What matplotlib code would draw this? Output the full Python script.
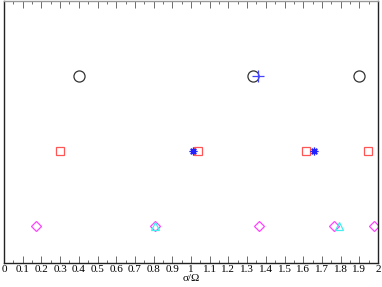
import matplotlib
matplotlib.use("Agg")
import matplotlib.pyplot as plt
import numpy as np

plt.rcParams['font.family'] = ['Liberation Serif', 'DejaVu Serif']

# row levels
row_circle = 2.5
row_square = 1.5
row_diamond = 0.5

circle_x = [0.403, 1.330, 1.900]
plus_x = [1.360]
square_x = [0.301, 1.039, 1.615, 1.945]
star_x = [1.012, 1.658]
diamond_x = [0.171, 0.809, 1.362, 1.765, 1.977]
triangle_x = [0.809, 1.791]

xticks = np.round(np.arange(0, 2.01, 0.1), 1)
xticklabels = ['0', '0.1', '0.2', '0.3', '0.4', '0.5', '0.6', '0.7', '0.8', '0.9', '1',
               '1.1', '1.2', '1.3', '1.4', '1.5', '1.6', '1.7', '1.8', '1.9', '2']

fig = plt.figure(figsize=(3.82, 2.87), dpi=100)
ax = fig.add_axes([4/382, 1 - 263/287, 374/382, 262/287])

ax.plot(circle_x, [row_circle]*len(circle_x), ls='none', marker='o', ms=8,
        mfc='none', mec='#333333', mew=0.9)
ax.plot(plus_x, [row_circle]*len(plus_x), ls='none', marker='+', ms=8,
        mec='#4444ff', mew=0.9)
ax.plot(square_x, [row_square]*len(square_x), ls='none', marker='s', ms=6,
        mfc='none', mec='#ff5555', mew=0.9)
ax.plot(star_x, [row_square]*len(star_x), ls='none', marker=(8, 2, 0), ms=5.5,
        mec='#2222ff', mew=0.9)
ax.plot(diamond_x, [row_diamond]*len(diamond_x), ls='none', marker='D', ms=5,
        mfc='none', mec='#ff44ff', mew=0.9)
ax.plot(triangle_x, [row_diamond]*len(triangle_x), ls='none', marker='^', ms=6,
        mfc='none', mec='#44eeee', mew=0.9)

ax.set_xlim(0, 2)
ax.set_ylim(0, 3.5)
ax.set_yticks([])
ax.set_xticks(xticks)
ax.set_xticklabels(xticklabels, fontsize=8)
ax.set_xticks(np.arange(0.05, 2, 0.1), minor=True)
ax.tick_params(axis='x', which='major', direction='in', length=5, width=0.6,
               top=True, pad=1.5, colors='#555555', labelcolor='black')
ax.tick_params(axis='x', which='minor', direction='in', length=2.5, width=0.6,
               top=True, colors='#555555')
for s in ['left', 'right', 'bottom']:
    ax.spines[s].set_color('#222222')
    ax.spines[s].set_linewidth(1.0)
ax.spines['top'].set_color('#999999')
ax.spines['top'].set_linewidth(1.0)
ax.set_xlabel('σ/Ω', fontsize=8, labelpad=0)

fig.savefig('out.png', dpi=100)
